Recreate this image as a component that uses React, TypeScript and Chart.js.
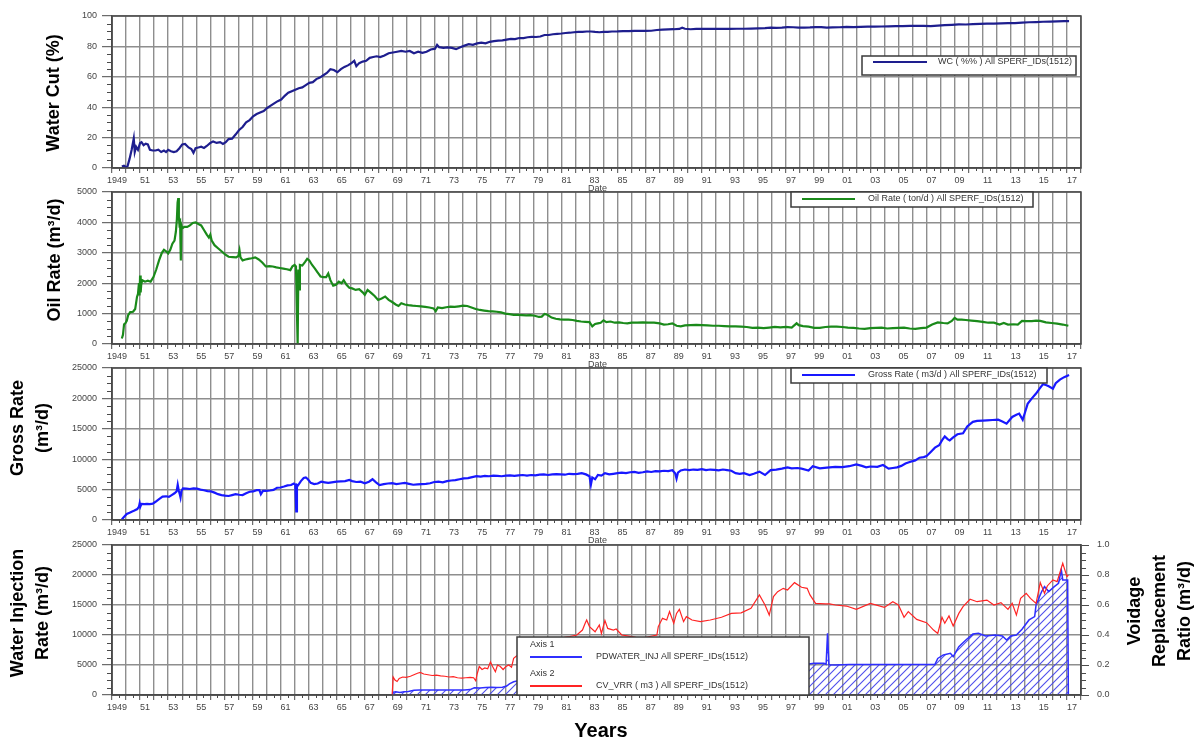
import React, { useEffect, useRef } from 'react';
import { Chart, registerables } from 'chart.js';

Chart.register(...registerables);

// ---------------- data ----------------
const X_TICK_LABELS = ['1949','51','53','55','57','59','61','63','65','67','69','71','73','75','77','79','81','83','85','87','89','91','93','95','97','99','01','03','05','07','09','11','13','15','17'];

const WC_YEARS = [1949.70,1949.85,1950.00,1950.10,1950.25,1950.40,1950.55,1950.62,1950.72,1950.85,1951.00,1951.10,1951.25,1951.40,1951.55,1951.70,1951.90,1952.10,1952.30,1952.50,1952.70,1952.85,1953.00,1953.20,1953.40,1953.60,1953.80,1954.00,1954.20,1954.45,1954.65,1954.80,1954.95,1955.15,1955.35,1955.55,1955.75,1956.00,1956.20,1956.45,1956.70,1956.90,1957.10,1957.30,1957.55,1957.80,1958.05,1958.30,1958.55,1958.80,1959.05,1959.30,1959.55,1959.80,1960.05,1960.30,1960.55,1960.80,1961.05,1961.30,1961.55,1961.80,1962.05,1962.30,1962.55,1962.80,1963.05,1963.30,1963.55,1963.80,1964.05,1964.30,1964.55,1964.80,1965.05,1965.30,1965.55,1965.80,1966.05,1966.25,1966.40,1966.60,1966.85,1967.10,1967.35,1967.60,1967.85,1968.10,1968.40,1968.70,1969.00,1969.30,1969.60,1969.90,1970.20,1970.50,1970.80,1971.10,1971.40,1971.70,1972.00,1972.15,1972.30,1972.60,1972.90,1973.20,1973.50,1973.80,1974.10,1974.40,1974.70,1975.00,1975.30,1975.60,1975.90,1976.20,1976.50,1976.80,1977.10,1977.40,1977.70,1978.00,1978.30,1978.60,1978.90,1979.20,1979.50,1979.80,1980.10,1980.40,1980.70,1981.00,1981.30,1981.60,1981.90,1982.20,1982.50,1982.80,1983.10,1983.40,1983.70,1984.00,1984.30,1984.60,1985.00,1985.40,1985.80,1986.20,1986.60,1987.00,1987.40,1987.80,1988.20,1988.60,1989.00,1989.40,1989.60,1989.80,1990.20,1990.60,1991.00,1991.50,1992.00,1992.50,1993.00,1993.50,1994.00,1994.50,1995.00,1995.50,1995.90,1996.30,1996.70,1997.10,1997.50,1997.90,1998.30,1998.70,1999.10,1999.50,1999.90,2000.30,2000.80,2001.30,2001.80,2002.30,2002.80,2003.30,2003.80,2004.30,2004.80,2005.30,2005.80,2006.30,2006.80,2007.30,2007.80,2008.30,2008.80,2009.30,2009.80,2010.30,2010.80,2011.30,2011.80,2012.30,2012.80,2013.30,2013.80,2014.30,2014.80,2015.30,2015.80,2016.30,2016.80,2017.15];
const WC_VALUES = [1,1.5,0.5,1,6,12,19.5,10.5,14,12,16.5,17,15,16,15.5,12,11.5,11.5,12,10.5,11.5,10.5,12,11,10.5,11,13,15.5,15.8,13.5,12.5,10,13,13.5,14,13.2,14.5,16.5,17.5,16.5,17,15.8,17,19,19.3,22,25,27,30,31.5,34,35.5,36.5,37.5,39.5,41,42.5,44,45,47.5,49.5,50.5,51.5,52.5,53,54.5,56,56.5,58.5,59.5,61,62.5,65,64.5,63,65,66.5,67.5,69,70.5,67,69,70,70.5,72.5,73,73.5,73,74,75.5,76,76.5,77,76.5,77,75.5,76.5,75.8,76.5,78,78.5,81,79.5,79,79.3,79,78.2,79.5,80.5,81.5,81,82,82.5,82,83,83.5,83.8,84,84.5,85,84.8,85.5,85.5,86,86.3,86.2,86.5,87.5,87.5,88,88.3,88.5,88.8,89,89.3,89.5,89.5,89.8,89.8,89.5,89.3,89.6,89.5,89.8,89.9,90.1,90,90.2,90.2,90.2,90.3,90.8,91,91.2,91.3,91.5,92.3,91.6,91.3,91.5,91.5,91.5,91.5,91.6,91.5,91.6,91.6,91.7,91.8,92,92.4,92.2,92.4,92.7,92.6,92.3,92.4,92.5,92.7,92.7,92.4,92.5,92.6,92.8,92.7,92.9,93,93,93.1,93.2,93.3,93.3,93.5,93.6,93.5,93.4,93.7,94,94.2,94.5,94.4,94.6,94.8,95,95,95.2,95.3,95.3,95.6,95.9,96,96.2,96.3,96.5,96.6,96.6];

const OIL_YEARS = [1949.70,1949.78,1949.86,1949.95,1950.05,1950.15,1950.30,1950.50,1950.65,1950.78,1950.85,1950.92,1950.96,1951.00,1951.04,1951.08,1951.15,1951.35,1951.55,1951.75,1951.95,1952.15,1952.35,1952.55,1952.70,1952.85,1953.00,1953.15,1953.30,1953.45,1953.55,1953.62,1953.67,1953.72,1953.76,1953.80,1953.85,1953.90,1953.94,1954.00,1954.15,1954.35,1954.55,1954.75,1954.95,1955.15,1955.35,1955.55,1955.75,1955.90,1956.00,1956.10,1956.30,1956.55,1956.80,1957.05,1957.30,1957.60,1957.85,1958.00,1958.08,1958.15,1958.30,1958.50,1958.70,1958.95,1959.20,1959.45,1959.70,1959.95,1960.20,1960.45,1960.70,1960.95,1961.20,1961.45,1961.70,1961.85,1962.00,1962.10,1962.18,1962.22,1962.27,1962.32,1962.38,1962.55,1962.75,1962.90,1963.05,1963.25,1963.45,1963.65,1963.85,1964.05,1964.25,1964.40,1964.55,1964.75,1964.95,1965.15,1965.35,1965.50,1965.70,1965.90,1966.10,1966.35,1966.60,1966.85,1967.00,1967.20,1967.45,1967.70,1967.95,1968.20,1968.45,1968.70,1968.95,1969.20,1969.40,1969.60,1969.85,1970.10,1970.40,1970.70,1971.00,1971.30,1971.60,1971.90,1972.05,1972.20,1972.50,1972.80,1973.10,1973.40,1973.70,1974.00,1974.30,1974.60,1974.90,1975.20,1975.50,1975.80,1976.10,1976.40,1976.70,1977.00,1977.30,1977.60,1977.90,1978.20,1978.50,1978.80,1979.10,1979.40,1979.60,1979.80,1980.00,1980.30,1980.60,1980.90,1981.20,1981.50,1981.80,1982.10,1982.40,1982.70,1983.00,1983.20,1983.40,1983.60,1983.80,1984.00,1984.20,1984.50,1984.80,1985.10,1985.40,1985.70,1986.00,1986.40,1986.80,1987.20,1987.60,1988.00,1988.30,1988.60,1988.90,1989.20,1989.50,1989.80,1990.20,1990.60,1991.00,1991.40,1991.80,1992.20,1992.60,1993.00,1993.40,1993.80,1994.20,1994.60,1995.00,1995.40,1995.80,1996.20,1996.60,1997.00,1997.40,1997.75,1997.90,1998.20,1998.60,1999.00,1999.40,1999.80,2000.20,2000.60,2001.00,2001.40,2001.80,2002.20,2002.60,2003.00,2003.40,2003.80,2004.20,2004.60,2005.00,2005.40,2005.80,2006.20,2006.60,2007.00,2007.40,2007.80,2008.20,2008.50,2008.80,2009.00,2009.20,2009.50,2009.80,2010.20,2010.60,2011.00,2011.40,2011.80,2012.20,2012.50,2012.80,2013.20,2013.50,2013.80,2014.10,2014.50,2014.80,2015.10,2015.50,2015.90,2016.30,2016.70,2017.10];
const OIL_VALUES = [180,300,650,680,760,950,1050,1060,1150,1550,1650,2000,1600,2250,1700,1950,2100,2050,2080,2050,2200,2450,2750,3000,3100,3050,2980,3100,3300,3400,3700,4100,4650,4800,4200,3950,4000,2750,3900,3800,3850,3850,3900,3980,4000,3950,3900,3750,3600,3500,3600,3400,3250,3150,3050,2950,2870,2860,2850,2900,3080,2850,2750,2780,2800,2820,2850,2780,2680,2550,2560,2550,2520,2500,2480,2460,2430,2560,2600,2550,800,0,2450,1800,2600,2580,2700,2800,2750,2600,2480,2350,2220,2200,2200,2320,2100,1920,1950,2050,2000,2100,1950,1850,1830,1780,1800,1700,1620,1780,1680,1580,1450,1500,1560,1450,1380,1300,1250,1340,1300,1280,1260,1250,1240,1220,1200,1170,1080,1200,1180,1210,1230,1220,1240,1260,1250,1200,1150,1120,1100,1080,1070,1060,1040,1000,980,960,955,950,940,950,930,890,900,990,960,870,830,810,805,800,790,760,740,730,720,580,660,680,700,780,720,740,700,710,690,680,700,700,710,700,700,680,640,650,680,600,580,610,620,630,620,610,600,600,590,580,580,570,560,530,540,520,540,560,550,560,540,680,620,590,570,530,530,560,570,570,560,540,530,510,500,520,530,540,510,520,530,540,510,495,520,540,640,710,690,680,760,860,800,800,790,770,750,730,700,700,640,690,640,650,640,760,750,750,770,760,710,690,670,640,600];

const GROSS_YEARS = [1949.70,1949.85,1950.05,1950.25,1950.40,1950.60,1950.80,1950.92,1950.97,1951.02,1951.10,1951.30,1951.50,1951.70,1951.90,1952.10,1952.35,1952.60,1952.85,1953.05,1953.25,1953.45,1953.60,1953.68,1953.75,1953.82,1953.88,1953.95,1954.05,1954.30,1954.55,1954.80,1955.05,1955.30,1955.55,1955.80,1956.05,1956.30,1956.55,1956.80,1957.05,1957.30,1957.55,1957.80,1958.05,1958.30,1958.55,1958.80,1959.05,1959.30,1959.50,1959.60,1959.75,1960.00,1960.25,1960.50,1960.75,1961.00,1961.25,1961.50,1961.75,1961.95,1962.05,1962.12,1962.17,1962.25,1962.45,1962.65,1962.80,1962.95,1963.15,1963.40,1963.65,1963.90,1964.15,1964.40,1964.65,1965.00,1965.30,1965.60,1965.90,1966.10,1966.40,1966.70,1967.00,1967.30,1967.55,1967.80,1968.05,1968.35,1968.65,1968.95,1969.25,1969.55,1969.85,1970.15,1970.45,1970.75,1971.05,1971.35,1971.65,1971.95,1972.25,1972.55,1972.85,1973.15,1973.45,1973.75,1974.05,1974.35,1974.65,1974.95,1975.25,1975.55,1975.85,1976.15,1976.45,1976.75,1977.05,1977.35,1977.65,1977.95,1978.25,1978.55,1978.85,1979.15,1979.45,1979.75,1980.05,1980.35,1980.65,1980.95,1981.25,1981.55,1981.85,1982.15,1982.45,1982.75,1983.00,1983.10,1983.20,1983.40,1983.60,1983.85,1984.10,1984.40,1984.70,1985.00,1985.30,1985.60,1985.90,1986.20,1986.50,1986.80,1987.10,1987.40,1987.70,1988.00,1988.30,1988.60,1988.90,1989.10,1989.20,1989.30,1989.50,1989.80,1990.10,1990.40,1990.70,1991.00,1991.30,1991.60,1991.90,1992.20,1992.50,1992.80,1993.10,1993.40,1993.70,1994.00,1994.40,1994.70,1995.10,1995.50,1995.90,1996.30,1996.70,1997.10,1997.40,1997.80,1998.10,1998.60,1998.90,1999.40,1999.90,2000.50,2001.00,2001.50,2002.00,2002.40,2002.70,2003.00,2003.50,2003.90,2004.30,2004.60,2004.90,2005.20,2005.50,2005.80,2006.20,2006.50,2006.80,2007.00,2007.30,2007.60,2007.90,2008.10,2008.30,2008.50,2008.65,2008.90,2009.20,2009.60,2009.90,2010.30,2010.60,2011.00,2011.30,2011.70,2012.10,2012.40,2012.70,2013.10,2013.40,2013.60,2013.85,2014.00,2014.20,2014.50,2014.80,2015.05,2015.30,2015.50,2015.70,2016.00,2016.20,2016.50,2016.80,2017.15];
const GROSS_VALUES = [100,500,990,1200,1370,1550,1800,2200,2750,2200,2650,2600,2650,2620,2700,3000,3450,3850,3900,3800,4100,4400,4700,5800,4900,4300,3700,4800,5200,5150,5100,5200,5150,5000,4900,4750,4700,4500,4250,4100,4000,3950,4100,4250,4150,4100,4400,4650,4700,4900,4900,4250,4800,4800,4850,4950,5300,5350,5500,5700,5750,6000,5800,1400,5800,5700,6400,6900,7000,6700,6100,5900,6000,6300,6200,6100,6200,6300,6350,6400,6600,6400,6250,6300,6050,6300,6700,6200,5750,5900,6000,6050,5900,6000,6100,5950,5800,5850,5900,5950,6050,6250,6300,6200,6400,6500,6550,6700,6850,6900,7050,7200,7150,7250,7200,7300,7250,7200,7300,7350,7250,7350,7400,7300,7400,7350,7450,7500,7400,7500,7550,7500,7450,7600,7550,7600,7700,7500,7200,5800,7000,6700,7400,7300,7700,7500,7600,7700,7800,7700,7850,7900,7750,7850,8000,7900,8050,8000,8100,8050,8200,7700,6800,7800,8150,8300,8200,8300,8250,8350,8200,8300,8250,8150,8300,8200,8100,7700,7600,7700,7400,7600,7950,7400,8200,8300,8450,8650,8500,8550,8450,8150,8850,8500,8600,8750,8700,8850,9150,8900,8650,8800,8750,9050,8450,8550,8650,8900,9300,9550,9800,10250,10350,10500,11200,11900,12300,13100,13750,13300,13100,13600,14100,14250,15400,16150,16300,16350,16400,16450,16500,16200,15850,16950,17300,17500,16500,17600,19100,20000,20800,21600,22350,22200,22000,21600,22500,23100,23500,23850];

const INJ_YEARS = [1968.95,1969.00,1969.20,1969.50,1969.80,1970.10,1970.50,1970.90,1971.30,1971.70,1972.10,1972.50,1972.90,1973.30,1973.70,1974.10,1974.50,1974.80,1975.20,1975.60,1976.00,1976.40,1976.80,1977.10,1977.30,1977.60,1978.00,1979.00,1980.00,1981.00,1982.00,1983.00,1984.00,1985.00,1986.00,1987.00,1988.00,1989.00,1990.00,1992.00,1994.00,1996.00,1998.00,1998.60,1999.00,1999.70,1999.85,1999.95,2000.05,2000.50,2001.50,2002.50,2003.50,2004.50,2005.50,2006.50,2007.60,2007.80,2008.20,2008.70,2008.90,2009.30,2009.80,2010.30,2010.70,2011.20,2011.90,2012.40,2012.70,2013.00,2013.40,2013.80,2014.30,2014.70,2014.80,2015.20,2015.40,2015.70,2016.10,2016.40,2016.60,2016.70,2017.05,2017.10];
const INJ_VALUES = [0,450,550,400,550,600,800,850,830,850,830,840,830,850,840,840,900,1200,1150,1250,1280,1250,1300,1500,1850,2200,2400,2700,3000,3300,3600,3800,4000,4200,4400,4600,4800,5000,5100,5150,5200,5200,5180,5170,5280,5280,5100,10300,5050,5000,5100,5100,5100,5100,5100,5100,5100,6100,6670,6950,6400,8060,9170,10180,10290,9840,10000,9840,9170,9840,10000,10950,12510,13060,15010,17240,18070,17240,18070,18630,20850,19180,19180,0];

const VRR_YEARS = [1968.95,1969.02,1969.15,1969.30,1969.45,1969.70,1969.95,1970.25,1970.50,1970.75,1970.95,1971.20,1971.50,1971.80,1972.10,1972.40,1972.70,1973.00,1973.30,1973.60,1973.90,1974.20,1974.50,1974.75,1974.90,1975.00,1975.15,1975.35,1975.55,1975.75,1975.95,1976.10,1976.30,1976.45,1976.65,1976.85,1977.05,1977.25,1977.45,1977.60,1977.80,1978.20,1978.70,1979.20,1979.70,1980.20,1980.70,1981.20,1981.60,1982.10,1982.50,1982.70,1982.80,1983.00,1983.40,1983.70,1983.85,1984.10,1984.30,1984.70,1984.90,1985.30,1985.80,1986.30,1986.80,1987.30,1987.80,1987.90,1988.20,1988.50,1988.70,1989.00,1989.20,1989.40,1989.70,1989.90,1990.30,1990.90,1991.60,1992.40,1993.10,1993.80,1994.50,1995.10,1995.50,1995.80,1996.10,1996.40,1996.80,1997.10,1997.60,1998.10,1998.50,1998.70,1999.10,1999.80,2000.10,2000.50,2001.30,2002.00,2003.00,2004.00,2004.60,2005.00,2005.40,2005.70,2006.30,2007.00,2007.50,2007.80,2008.10,2008.30,2008.60,2008.90,2009.30,2009.60,2010.10,2010.60,2011.30,2011.80,2012.30,2012.80,2013.10,2013.40,2013.70,2014.10,2014.40,2014.80,2015.10,2015.40,2015.60,2016.00,2016.30,2016.70,2017.00,2017.10];
const VRR_VALUES = [0,0.12,0.10,0.09,0.11,0.12,0.118,0.125,0.135,0.145,0.15,0.14,0.135,0.13,0.133,0.127,0.125,0.12,0.122,0.115,0.112,0.115,0.118,0.115,0.095,0.14,0.19,0.17,0.18,0.175,0.22,0.19,0.155,0.2,0.19,0.17,0.19,0.2,0.185,0.245,0.26,0.28,0.3,0.33,0.35,0.37,0.38,0.385,0.39,0.40,0.433,0.48,0.50,0.456,0.422,0.467,0.41,0.496,0.444,0.433,0.44,0.40,0.393,0.384,0.38,0.39,0.40,0.456,0.511,0.50,0.556,0.478,0.544,0.571,0.489,0.522,0.50,0.489,0.50,0.518,0.544,0.548,0.578,0.667,0.60,0.533,0.656,0.689,0.711,0.70,0.749,0.718,0.711,0.667,0.611,0.607,0.607,0.60,0.593,0.571,0.611,0.584,0.622,0.60,0.518,0.556,0.504,0.482,0.433,0.411,0.518,0.478,0.527,0.46,0.544,0.589,0.638,0.622,0.633,0.60,0.616,0.571,0.611,0.533,0.644,0.678,0.644,0.611,0.749,0.678,0.727,0.767,0.756,0.878,0.789,0.80];

// ---------------- layout / style ----------------
const W = 1199;
const H = 742;
const X_MIN = 1949;
const X_MAX = 2018;
const PLOT_LEFT = 112;
const PLOT_RIGHT = 1081;
const Y_AXIS_W = 50;
const X_AXIS_H = 24;
const PANELS = [
  { top: 16, bottom: 168 },
  { top: 192, bottom: 344 },
  { top: 368, bottom: 520 },
  { top: 545, bottom: 695 },
];
const GRID = '#8e8e8e';
const AXIS = '#4a4a4a';
const TICK_TXT = '#454545';
const FONT = 'Liberation Sans, Arial, sans-serif';

const pts = (xs: number[], ys: number[]) => xs.map((x, i) => ({ x, y: ys[i] }));

function xLabel(value: any) {
  const yr = Math.round(Number(value));
  if ((yr - X_MIN) % 2 !== 0) return '';
  return X_TICK_LABELS[(yr - X_MIN) / 2] ?? '';
}

type LegendItem = { kind: 'text' | 'line'; x: number; y: number; x2?: number; text?: string; color?: string };
type Decor = {
  titles: { cx: number; cy: number; lines: string[] }[];
  minor: { id: string; step: number; major: number; side: 'left' | 'right' }[];
  date: boolean;
  legendBox: [number, number, number, number];
  legend: LegendItem[];
  years?: boolean;
};

function makeDecor(d: Decor) {
  return {
    id: 'panelDecor',
    afterDraw(chart: any) {
      const { ctx, chartArea: a, scales } = chart;
      ctx.save();
      // frame
      ctx.strokeStyle = AXIS;
      ctx.lineWidth = 1.5;
      ctx.strokeRect(a.left, a.top, a.right - a.left, a.bottom - a.top);
      // minor x ticks
      ctx.lineWidth = 1;
      ctx.beginPath();
      for (let yr = X_MIN + 0.5; yr < X_MAX; yr += 1) {
        const px = Math.round(scales.x.getPixelForValue(yr)) + 0.5;
        ctx.moveTo(px, a.bottom);
        ctx.lineTo(px, a.bottom + 3);
      }
      // minor y ticks
      for (const m of d.minor) {
        const s = scales[m.id];
        for (let v = s.min; v <= s.max + 1e-9; v += m.step) {
          const r = v / m.major;
          if (Math.abs(r - Math.round(r)) < 1e-6) continue;
          const py = Math.round(s.getPixelForValue(v)) + 0.5;
          if (m.side === 'left') { ctx.moveTo(a.left - 5, py); ctx.lineTo(a.left, py); }
          else { ctx.moveTo(a.right, py); ctx.lineTo(a.right + 5, py); }
        }
      }
      ctx.stroke();
      // "Date"
      ctx.fillStyle = '#444';
      ctx.font = `9px ${FONT}`;
      ctx.textAlign = 'center';
      ctx.textBaseline = 'middle';
      if (d.date) ctx.fillText('Date', (a.left + a.right) / 2 + 1, a.bottom + 21);
      // legend
      const [bx1, by1, bx2, by2] = d.legendBox;
      ctx.fillStyle = '#ffffff';
      ctx.fillRect(bx1, by1, bx2 - bx1, by2 - by1);
      ctx.strokeStyle = '#3a3a3a';
      ctx.lineWidth = 1.5;
      ctx.strokeRect(bx1, by1, bx2 - bx1, by2 - by1);
      ctx.textAlign = 'left';
      for (const it of d.legend) {
        if (it.kind === 'line') {
          ctx.strokeStyle = it.color;
          ctx.lineWidth = 2;
          ctx.beginPath();
          ctx.moveTo(it.x, it.y);
          ctx.lineTo(it.x2, it.y);
          ctx.stroke();
        } else {
          ctx.fillStyle = '#333';
          ctx.font = `9px ${FONT}`;
          ctx.fillText(it.text, it.x, it.y);
        }
      }
      // axis titles (rotated, reading bottom to top)
      ctx.fillStyle = '#000';
      ctx.font = `bold 18px ${FONT}`;
      ctx.textAlign = 'center';
      for (const t of d.titles) {
        ctx.save();
        ctx.translate(t.cx, t.cy);
        ctx.rotate(-Math.PI / 2);
        t.lines.forEach((ln, i) => ctx.fillText(ln, 0, (i - (t.lines.length - 1) / 2) * 25));
        ctx.restore();
      }
      if (d.years) {
        ctx.font = `bold 20px ${FONT}`;
        ctx.fillText('Years', 601, 731);
      }
      ctx.restore();
    },
  };
}

function yScale(min: number, max: number, step: number, extra: any = {}) {
  return {
    type: 'linear',
    position: 'left',
    min,
    max,
    afterFit: (s: any) => { s.width = Y_AXIS_W; },
    grid: { color: GRID, lineWidth: 1.4, tickLength: 10, tickColor: AXIS, tickWidth: 1 },
    border: { color: AXIS, width: 1.5 },
    ticks: { stepSize: step, padding: 5, color: TICK_TXT, font: { family: FONT, size: 9 }, callback: (v: any) => String(v) },
    ...extra,
  };
}

function buildConfig(i: number, hatch: any) {
  const p = PANELS[i];
  const hasRight = i === 3;
  const xScale = {
    type: 'linear',
    min: X_MIN,
    max: X_MAX,
    afterFit: (s: any) => { s.height = X_AXIS_H; },
    grid: { color: GRID, lineWidth: 1.4, tickLength: 5, tickColor: AXIS, tickWidth: 1 },
    border: { color: AXIS, width: 1.5 },
    ticks: {
      stepSize: 1, autoSkip: false, maxRotation: 0, minRotation: 0, labelOffset: 5, padding: 2,
      color: TICK_TXT, font: { family: FONT, size: 9 }, callback: xLabel,
    },
  };
  const line = { pointRadius: 0, tension: 0, fill: false };
  let datasets: any[] = [];
  let scales: any = { x: xScale };
  let decor: Decor;
  if (i === 0) {
    datasets = [{ ...line, label: 'WC ( %% ) All SPERF_IDs(1512)', data: pts(WC_YEARS, WC_VALUES), borderColor: '#1e1e8e', borderWidth: 2.2 }];
    scales.y = yScale(0, 100, 20);
    decor = {
      titles: [{ cx: 54, cy: 93, lines: ['Water Cut (%)'] }],
      minor: [{ id: 'y', step: 5, major: 20, side: 'left' }],
      date: true,
      legendBox: [862, 56, 1076, 75],
      legend: [
        { kind: 'line', x: 873, x2: 927, y: 62, color: '#1e1e8e' },
        { kind: 'text', x: 938, y: 62, text: 'WC ( %% ) All SPERF_IDs(1512)' },
      ],
    };
  } else if (i === 1) {
    datasets = [{ ...line, label: 'Oil Rate ( ton/d ) All SPERF_IDs(1512)', data: pts(OIL_YEARS, OIL_VALUES), borderColor: '#1a8a1a', borderWidth: 2.2 }];
    scales.y = yScale(0, 5000, 1000);
    decor = {
      titles: [{ cx: 55, cy: 260, lines: ['Oil Rate (m³/d)'] }],
      minor: [{ id: 'y', step: 250, major: 1000, side: 'left' }],
      date: true,
      legendBox: [791, 192, 1033, 207],
      legend: [
        { kind: 'line', x: 802, x2: 855, y: 199, color: '#1a8a1a' },
        { kind: 'text', x: 868, y: 198.5, text: 'Oil Rate ( ton/d ) All SPERF_IDs(1512)' },
      ],
    };
  } else if (i === 2) {
    datasets = [{ ...line, label: 'Gross Rate ( m3/d ) All SPERF_IDs(1512)', data: pts(GROSS_YEARS, GROSS_VALUES), borderColor: '#1818ff', borderWidth: 2.2 }];
    scales.y = yScale(0, 25000, 5000);
    decor = {
      titles: [{ cx: 31, cy: 428, lines: ['Gross Rate', '(m³/d)'] }],
      minor: [{ id: 'y', step: 1250, major: 5000, side: 'left' }],
      date: true,
      legendBox: [791, 368, 1047, 383],
      legend: [
        { kind: 'line', x: 802, x2: 855, y: 375, color: '#1818ff' },
        { kind: 'text', x: 868, y: 374.5, text: 'Gross Rate ( m3/d ) All SPERF_IDs(1512)' },
      ],
    };
  } else {
    datasets = [
      { ...line, label: 'CV_VRR ( m3 ) All SPERF_IDs(1512)', yAxisID: 'y1', data: pts(VRR_YEARS, VRR_VALUES), borderColor: '#ff2424', borderWidth: 1.2 },
      { ...line, label: 'PDWATER_INJ All SPERF_IDs(1512)', yAxisID: 'y', data: pts(INJ_YEARS, INJ_VALUES), borderColor: '#2f2fff', borderWidth: 1.5, fill: 'origin', backgroundColor: hatch },
    ];
    scales.y = yScale(0, 25000, 5000);
    scales.y1 = yScale(0, 1, 0.2, {
      position: 'right',
      grid: { drawOnChartArea: false, tickLength: 8, tickColor: AXIS, tickWidth: 1 },
      ticks: { stepSize: 0.2, padding: 8, color: TICK_TXT, font: { family: FONT, size: 9 }, callback: (v: any) => Number(v).toFixed(1) },
    });
    decor = {
      titles: [
        { cx: 31, cy: 613, lines: ['Water Injection', 'Rate (m³/d)'] },
        { cx: 1160, cy: 611, lines: ['Voidage', 'Replacement', 'Ratio (m³/d)'] },
      ],
      minor: [
        { id: 'y', step: 1250, major: 5000, side: 'left' },
        { id: 'y1', step: 0.05, major: 0.2, side: 'right' },
      ],
      date: false,
      years: true,
      legendBox: [517, 637, 809, 695],
      legend: [
        { kind: 'text', x: 530, y: 645, text: 'Axis 1' },
        { kind: 'line', x: 530, x2: 582, y: 657, color: '#2f2fff' },
        { kind: 'text', x: 596, y: 657, text: 'PDWATER_INJ All SPERF_IDs(1512)' },
        { kind: 'text', x: 530, y: 674, text: 'Axis 2' },
        { kind: 'line', x: 530, x2: 582, y: 686, color: '#ff2424' },
        { kind: 'text', x: 596, y: 686, text: 'CV_VRR ( m3 ) All SPERF_IDs(1512)' },
      ],
    };
  }
  return {
    type: 'line',
    data: { datasets },
    options: {
      responsive: false,
      animation: false,
      layout: {
        padding: {
          top: p.top,
          bottom: H - p.bottom - X_AXIS_H,
          left: PLOT_LEFT - Y_AXIS_W,
          right: W - PLOT_RIGHT - (hasRight ? Y_AXIS_W : 0),
        },
      },
      plugins: { legend: { display: false }, tooltip: { enabled: false }, title: { display: false } },
      scales,
    },
    plugins: [makeDecor(decor)],
  };
}

function makeHatch(): any {
  const c = document.createElement('canvas');
  c.width = 8;
  c.height = 8;
  const g = c.getContext('2d');
  if (!g) return 'rgba(60,60,230,0.3)';
  g.strokeStyle = 'rgba(70,70,235,0.95)';
  g.lineWidth = 1.1;
  g.beginPath();
  g.moveTo(0, 8); g.lineTo(8, 0);
  g.moveTo(-2, 2); g.lineTo(2, -2);
  g.moveTo(6, 10); g.lineTo(10, 6);
  g.stroke();
  return g.createPattern(c, 'repeat');
}

export default function App() {
  const canvases = useRef<(HTMLCanvasElement | null)[]>([]);
  useEffect(() => {
    const hatch = makeHatch();
    const charts = PANELS.map((_, i) => new Chart(canvases.current[i] as HTMLCanvasElement, buildConfig(i, hatch) as any));
    return () => { charts.forEach((c) => c.destroy()); };
  }, []);
  return (
    <div style={{ position: 'absolute', left: 0, top: 0, width: W, height: H, background: '#ffffff', overflow: 'hidden' }}>
      {PANELS.map((_, i) => (
        <canvas
          key={i}
          ref={(el) => { canvases.current[i] = el; }}
          width={W}
          height={H}
          style={{ position: 'absolute', left: 0, top: 0, width: W, height: H }}
        />
      ))}
    </div>
  );
}
